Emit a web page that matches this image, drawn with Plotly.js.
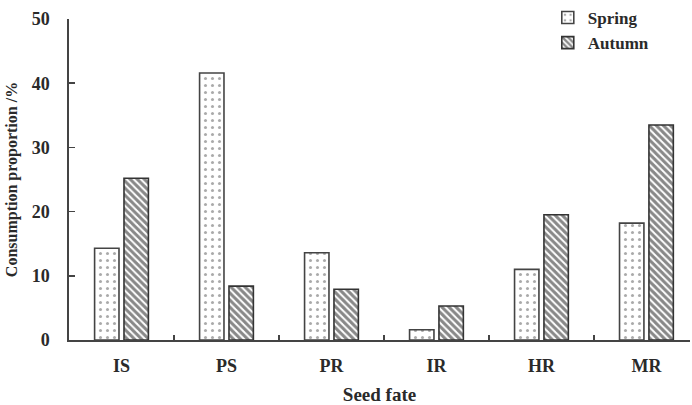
<!DOCTYPE html>
<html><head><meta charset="utf-8">
<script src="https://cdn.plot.ly/plotly-3.0.1.min.js"></script>
<style>body{margin:0;background:#fff}#chart{width:692px;height:405px}</style>
</head><body><div id="chart"></div>
<script>
const categories = ["IS", "PS", "PR", "IR", "HR", "MR"];
const springValues = [14.3, 41.6, 13.6, 1.6, 11.0, 18.2];
const autumnValues = [25.2, 8.4, 7.9, 5.3, 19.5, 33.5];
const yTickValues = [0, 10, 20, 30, 40, 50];

const fam = '"Liberation Serif", "Times New Roman", serif';
const txt = '#2a2a2a';

const traces = [
  {type: 'bar', name: 'Spring', x: categories, y: springValues,
   marker: {color: '#ffffff', line: {color: '#444', width: 1.6},
            pattern: {shape: '.', fgcolor: '#555', bgcolor: '#ffffff', size: 7, solidity: 0.15, fillmode: 'overlay'}}},
  {type: 'bar', name: 'Autumn', x: categories, y: autumnValues,
   marker: {color: '#ffffff', line: {color: '#333', width: 1.6},
            pattern: {shape: '\\', fgcolor: '#111', bgcolor: '#ffffff', size: 5, solidity: 0.6, fillmode: 'overlay'}}}
];

const layout = {
  width: 692, height: 405,
  margin: {l: 69, r: 2, t: 0, b: 65},
  paper_bgcolor: '#fff', plot_bgcolor: '#fff',
  font: {family: fam, color: txt, size: 16, weight: 'bold'},
  barmode: 'group', bargap: 0.44, bargroupgap: 0.17,
  showlegend: true,
  legend: {x: 0.771, y: 1.0, xanchor: 'left', yanchor: 'top',
           bgcolor: 'rgba(0,0,0,0)', font: {family: fam, size: 17, color: txt, weight: 'bold'},
           tracegroupgap: 0, itemwidth: 30},
  xaxis: {range: [-0.5, 5.415], showline: true, linecolor: '#444', linewidth: 1.6,
          ticks: 'inside', tickson: 'boundaries', ticklen: 5, tickcolor: '#444', tickwidth: 1.5,
          showgrid: false, zeroline: false, ticklabelstandoff: 9,
          tickfont: {family: fam, size: 18, color: txt, weight: 'bold'},
          title: {text: 'Seed fate', standoff: 12, font: {family: fam, size: 19, color: txt, weight: 'bold'}}},
  yaxis: {range: [0, 50], domain: [0, 0.9441], tickvals: yTickValues, showline: true, linecolor: '#444', linewidth: 1.6,
          ticks: 'inside', ticklen: 6, tickcolor: '#444', tickwidth: 1.5,
          showgrid: false, zeroline: false, ticklabelstandoff: 14,
          tickfont: {family: fam, size: 18, color: txt, weight: 'bold'},
          title: {text: 'Consumption proportion /%', standoff: 10, font: {family: fam, size: 16, color: txt, weight: 'bold'}}}
};

Plotly.newPlot('chart', traces, layout, {displayModeBar: false, staticPlot: true});
</script></body></html>
